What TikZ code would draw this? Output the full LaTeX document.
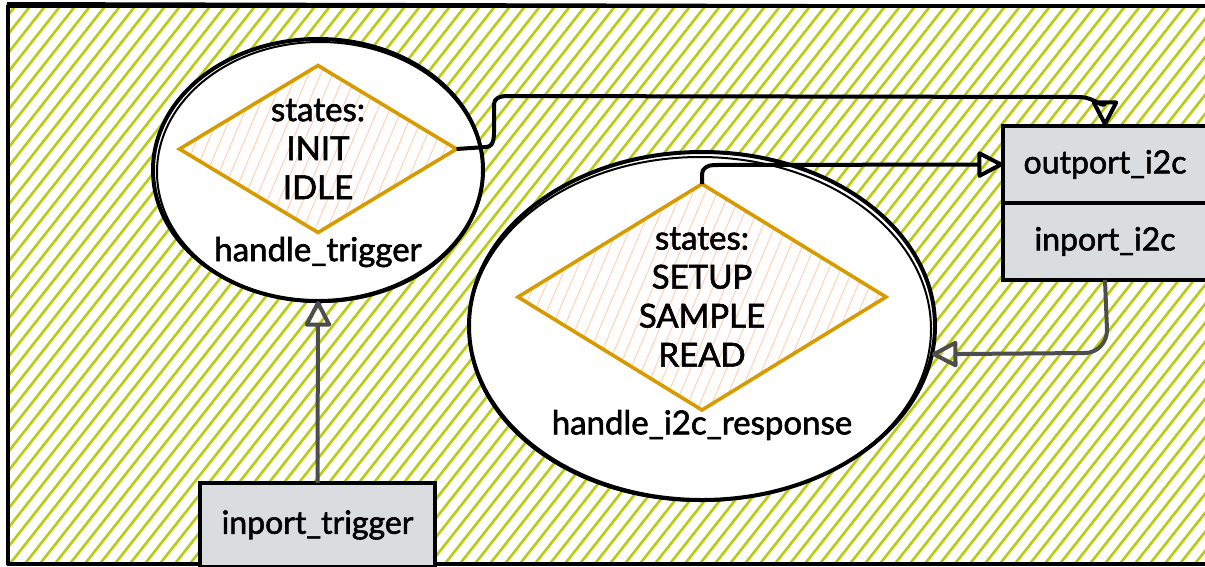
\documentclass[tikz,border=0pt]{standalone}
\usepackage{fontspec}
\setmainfont{Lato}[FakeBold=1.8]
\usetikzlibrary{shapes.geometric,arrows.meta,calc}
\definecolor{hatchg}{RGB}{186,204,16}
\definecolor{peach}{RGB}{255,210,184}
\definecolor{dorange}{HTML}{D79B00}
\definecolor{boxgrey}{RGB}{217,221,224}
\definecolor{lgrey}{HTML}{4D4D4D}
\tikzset{
  lbl/.style={font=\fontsize{33}{39}\selectfont, align=center, inner sep=0pt},
  ell/.style={ellipse, draw, fill=white, line width=4pt, inner sep=0pt, outer sep=0pt},
  dia/.style={diamond, draw=dorange, line width=3.6pt, fill=white, inner sep=0pt, outer sep=0pt,
    path picture={\foreach \k in {-30,...,20} \draw[peach,line width=1pt] ($(path picture bounding box.center)+(\k*12,130)$) -- ++(110,-260);}},
  portbox/.style={draw, fill=boxgrey, line width=3.8pt, inner sep=0pt, outer sep=0pt, font=\fontsize{32}{38}\selectfont},
  conn/.style={line width=4pt, line join=round, -{Triangle[open,length=28pt,width=28pt,round]}},
  sketch/.style={line width=2pt}
}
\begin{document}
\begin{tikzpicture}[x=1pt,y=-1pt]
\useasboundingbox (0,0) rectangle (1205,566);
% background hatch
\begin{scope}
\clip (8,6) rectangle (1215,564);
\foreach \i in {-460,-445,...,1220} \draw[hatchg,line width=2.6pt] (\i,570) -- (\i+450,0);
\end{scope}
\draw[line width=4pt, line join=round] (8,6) rectangle (1215,564);
\draw[sketch] (7,3) -- (1210,6);
% ellipses
\node[ell, minimum width=330pt, minimum height=262pt] (e1) at (318,170) {};
\draw[sketch] ($(e1.center)+(2,2)$) ellipse [x radius=163pt, y radius=130pt];
\node[ell, minimum width=466pt, minimum height=348pt] (e2) at (702,326) {};
\draw[sketch] ($(e2.center)+(-2,3)$) ellipse [x radius=231pt, y radius=172pt];
% diamonds
\node[dia, minimum width=277pt, minimum height=167pt] (d1) at (318,149) {};
\node[dia, minimum width=368pt, minimum height=226pt] (d2) at (702,297) {};
% texts
\node[lbl] (t1) at (d1.center) {states:\\INIT\\IDLE};
\node[lbl] (t2) at (d2.center) {states:\\SETUP\\SAMPLE\\READ};
\node[lbl] (n1) at (318,252) {handle\_trigger};
\node[lbl] (n2) at (702,425) {handle\_i2c\_response};
% port boxes
\node[portbox, minimum width=204pt, minimum height=77pt] (op) at (1105,164.5) {outport\_i2c};
\node[portbox, minimum width=204pt, minimum height=77pt] (ip) at (1105,241.5) {inport\_i2c};
\node[portbox, minimum width=235pt, minimum height=84pt] (it) at (317.5,525) {inport\_trigger};
% connectors
\draw[conn, lgrey] (it.north) -- (e1.south);
\draw[conn] (d1.east) -- (486,147) to[out=0,in=-90] (494,125) -- (494,104) to[out=90,in=180] (506,96) -- (1080,97) to[out=0,in=90] (op.north);
\draw[conn] (d2.north) -- (702,174) to[out=90,in=180] (714,165) -- (op.west);
\draw[conn, lgrey] (ip.south) -- (1107,330) to[out=-90,in=0] (1085,353) -- (e2.-7);
\end{tikzpicture}
\end{document}
